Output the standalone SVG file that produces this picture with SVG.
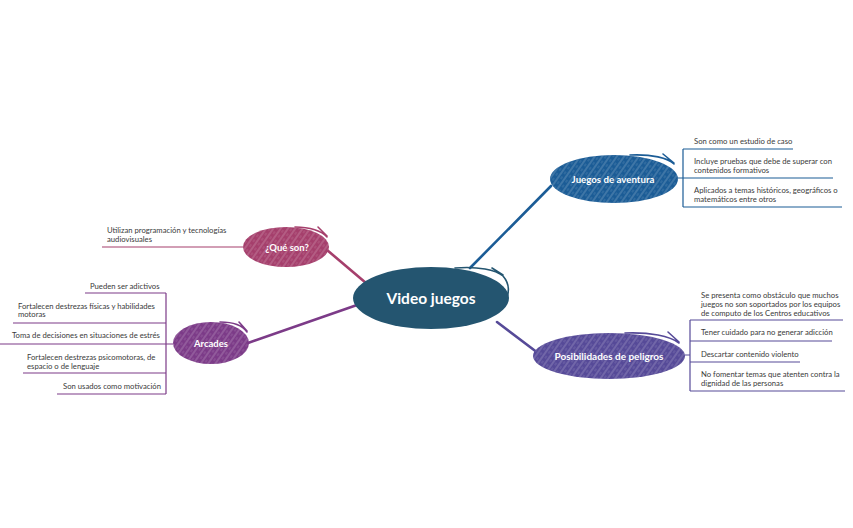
<svg xmlns="http://www.w3.org/2000/svg" width="853" height="528" viewBox="0 0 853 528">
<defs>
<pattern id="hatch" patternUnits="userSpaceOnUse" width="6" height="6" patternTransform="rotate(-55)">
<line x1="0" y1="1" x2="6" y2="1" stroke="#ffffff" stroke-width="0.7" stroke-opacity="0.45"/>
<line x1="1" y1="4" x2="4" y2="4" stroke="#ffffff" stroke-width="0.6" stroke-opacity="0.3"/>
</pattern>
<style>
.t{font-family:"Lato","Noto Sans","Liberation Sans",sans-serif;font-size:7.7px;fill:#3a3a3a}
.n{font-family:"Lato","Noto Sans","Liberation Sans",sans-serif;font-weight:bold;fill:#ffffff;text-anchor:middle}
.br{fill:none;stroke-width:1.2}
.cn{fill:none;stroke-width:2.6;stroke-linecap:round}
.sw{fill:none;stroke-width:1.6;stroke-linecap:round}
</style>
</defs>
<rect width="853" height="528" fill="#ffffff"/>
<g id="connectors">
<line class="cn" x1="470" y1="268" x2="551" y2="186" stroke="#1b5c96"/>
<line class="cn" x1="497" y1="322" x2="538" y2="353" stroke="#564a98"/>
<line class="cn" x1="366" y1="283" x2="327" y2="250" stroke="#a53f6c"/>
<line class="cn" x1="357" y1="305" x2="248" y2="343" stroke="#7c3b88"/>
</g>
<g id="center">
<ellipse cx="431" cy="298" rx="78" ry="31" fill="#245570"/>
<path class="sw" d="M455 268 C478 266 496 270 503 276 C510 284 510 294 504 302 M492 268 L503 275" stroke="#245570" stroke-width="2.5"/>
<text class="n" x="431" y="304" font-size="15.5">Video juegos</text>
</g>
<g id="aventura">
<ellipse cx="614" cy="179" rx="64" ry="24" fill="#1b5c96"/>
<ellipse cx="614" cy="179" rx="64" ry="24" fill="url(#hatch)"/>
<path class="sw" d="M630 155 C652 154 668 158 674 164 M663 154 L674 163" stroke="#1b5c96"/>
<text class="n" x="613" y="183" font-size="9.7">Juegos de aventura</text>
<path class="br" d="M678 178 H683 M683 149 V207 M683 149 H793 M683 178 H833 M683 207 H842" stroke="#1b5c96"/>
<text class="t" x="694" y="143.5">Son como un estudio de caso</text>
<text class="t" x="694" y="163.5">Incluye pruebas que debe de superar con</text>
<text class="t" x="694" y="172.5">contenidos formativos</text>
<text class="t" x="694" y="193">Aplicados a temas históricos, geográficos o</text>
<text class="t" x="694" y="202">matemáticos entre otros</text>
</g>
<g id="peligros">
<ellipse cx="609" cy="356" rx="76" ry="23" fill="#564a98"/>
<ellipse cx="609" cy="356" rx="76" ry="23" fill="url(#hatch)"/>
<path class="sw" d="M625 333 C650 332 670 336 679 343 M668 332 L679 342" stroke="#564a98"/>
<text class="n" x="609" y="359.5" font-size="10">Posibilidades de peligros</text>
<path class="br" d="M685 355 H690 M690 320 V391 M690 320 H843 M690 341 H832 M690 362 H800 M690 391 H845" stroke="#564a98"/>
<text class="t" x="701" y="297.5">Se presenta como obstáculo que muchos</text>
<text class="t" x="701" y="306.5">juegos no son soportados por los equipos</text>
<text class="t" x="701" y="315.5">de computo de los Centros educativos</text>
<text class="t" x="701" y="335">Tener cuidado para no generar adicción</text>
<text class="t" x="701" y="356.5">Descartar contenido violento</text>
<text class="t" x="701" y="376.5">No fomentar  temas que atenten contra la</text>
<text class="t" x="701" y="385.5">dignidad de las personas</text>
</g>
<g id="queson">
<ellipse cx="286" cy="247" rx="43" ry="20" fill="#a53f6c"/>
<ellipse cx="286" cy="247" rx="43" ry="20" fill="url(#hatch)"/>
<path class="sw" d="M295 227 C310 227 322 231 327 237 M318 227 L327 236" stroke="#a53f6c"/>
<text class="n" x="287" y="250.5" font-size="9.5">¿Qué son?</text>
<path class="br" d="M102 247 H243" stroke="#a53f6c"/>
<text class="t" x="107" y="233">Utilizan programación y tecnologías</text>
<text class="t" x="107" y="241.5">audiovisuales</text>
</g>
<g id="arcades">
<ellipse cx="211" cy="343" rx="38" ry="21" fill="#7c3b88"/>
<ellipse cx="211" cy="343" rx="38" ry="21" fill="url(#hatch)"/>
<path class="sw" d="M220 322 C234 322 243 326 247 332 M239 322 L247 331" stroke="#7c3b88"/>
<text class="n" x="211" y="347" font-size="9.5">Arcades</text>
<path class="br" d="M173 344 H166 M166 293 V394 M166 293 H85 M166 323 H13 M166 344 H0 M166 373 H23 M166 394 H57" stroke="#7c3b88"/>
<text class="t" x="90" y="288.5">Pueden ser adictivos</text>
<text class="t" x="18" y="308.5">Fortalecen destrezas físicas y habilidades</text>
<text class="t" x="18" y="317">motoras</text>
<text class="t" x="12" y="337.5">Toma de decisiones en situaciones de estrés</text>
<text class="t" x="27" y="359.5">Fortalecen destrezas psicomotoras, de</text>
<text class="t" x="27" y="368.5">espacio o de lenguaje</text>
<text class="t" x="63" y="389">Son usados como motivación</text>
</g>
</svg>
